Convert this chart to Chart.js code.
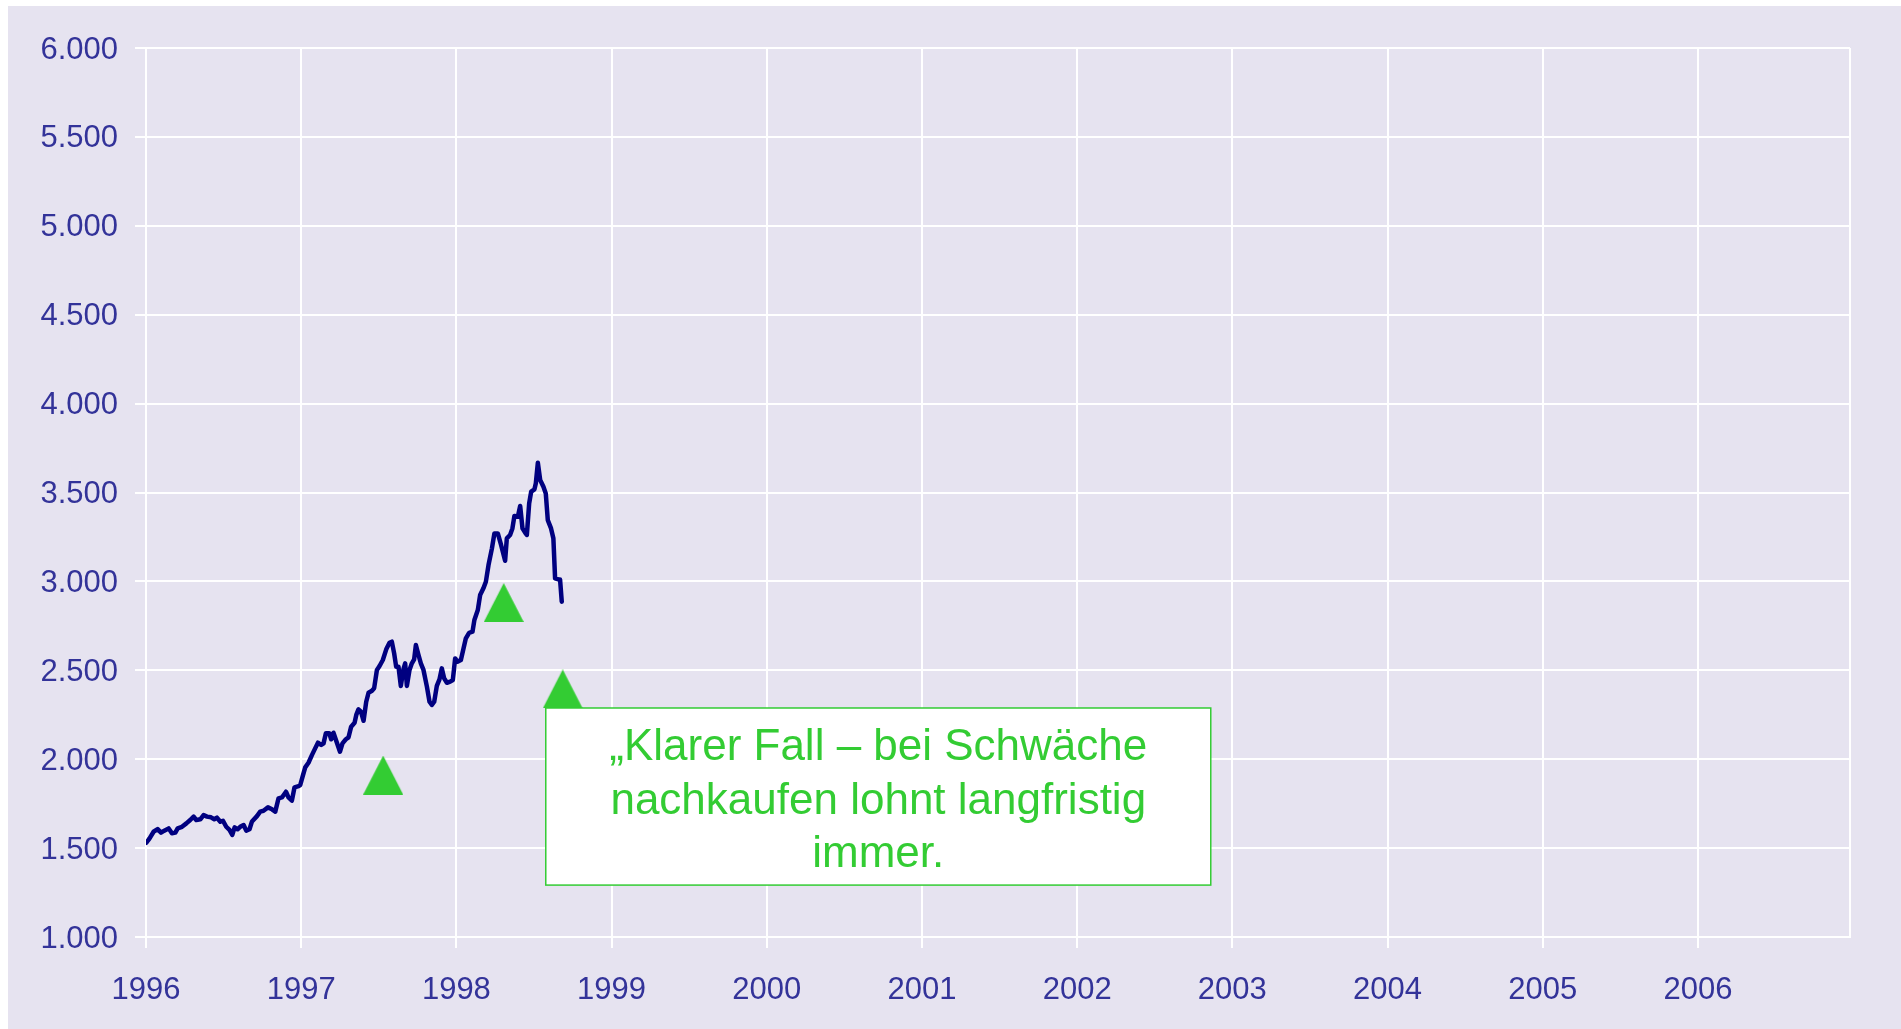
<!DOCTYPE html>
<html>
<head>
<meta charset="utf-8">
<script src="https://cdn.jsdelivr.net/npm/chart.js@4.4.1/dist/chart.umd.min.js"></script>
<style>
  html, body { margin: 0; padding: 0; background: #ffffff; width: 1901px; height: 1029px; overflow: hidden; }
  #bg { position: absolute; left: 8px; top: 6px; right: 0; bottom: 0; background: #E6E3F0; }
  #wrap { position: absolute; left: 0; top: 0; width: 1901px; height: 1029px; }
</style>
</head>
<body>
<div id="bg"></div>
<div id="wrap"><canvas id="c"></canvas></div>
<script>
// ---- data (decimal year, index level) ----
const years = [
  1996.002, 1996.023, 1996.049, 1996.075, 1996.097, 1996.118, 1996.146, 1996.167, 1996.189, 1996.204,
  1996.232, 1996.260, 1996.285, 1996.307, 1996.324, 1996.350, 1996.371, 1996.393, 1996.419, 1996.440,
  1996.457, 1996.479, 1996.496, 1996.517, 1996.538, 1996.556, 1996.571, 1996.590, 1996.607, 1996.629,
  1996.646, 1996.667, 1996.683, 1996.715, 1996.736, 1996.757, 1996.786, 1996.812, 1996.833, 1996.854,
  1996.876, 1996.902, 1996.918, 1996.940, 1996.957, 1996.983, 1996.994, 1997.009, 1997.026, 1997.047,
  1997.069, 1997.090, 1997.108, 1997.129, 1997.144, 1997.159, 1997.181, 1997.193, 1997.208, 1997.224,
  1997.250, 1997.266, 1997.288, 1997.305, 1997.322, 1997.344, 1997.355, 1997.369, 1997.385, 1997.402,
  1997.419, 1997.434, 1997.456, 1997.470, 1997.488, 1997.505, 1997.526, 1997.548, 1997.569, 1997.584,
  1997.599, 1997.612, 1997.627, 1997.642, 1997.659, 1997.670, 1997.681, 1997.698, 1997.713, 1997.728,
  1997.739, 1997.756, 1997.771, 1997.788, 1997.810, 1997.827, 1997.842, 1997.857, 1997.874, 1997.891,
  1997.906, 1997.921, 1997.939, 1997.960, 1997.977, 1997.992, 1998.007, 1998.029, 1998.061, 1998.082,
  1998.104, 1998.116, 1998.138, 1998.153, 1998.174, 1998.190, 1998.207, 1998.229, 1998.245, 1998.267,
  1998.288, 1998.314, 1998.325, 1998.346, 1998.361, 1998.374, 1998.396, 1998.411, 1998.426, 1998.443,
  1998.454, 1998.469, 1998.482, 1998.503, 1998.512, 1998.525, 1998.540, 1998.561, 1998.576, 1998.589,
  1998.610, 1998.625, 1998.636, 1998.657, 1998.668, 1998.679
];
const values = [
  1530, 1555, 1592, 1607, 1587, 1598, 1611, 1583, 1587, 1611,
  1620, 1639, 1658, 1677, 1658, 1662, 1686, 1677, 1673, 1662,
  1671, 1648, 1654, 1620, 1602, 1574, 1617, 1606, 1620, 1630,
  1598, 1606, 1650, 1680, 1705, 1710, 1729, 1718, 1705, 1780,
  1785, 1817, 1785, 1767, 1842, 1849, 1855, 1902, 1954, 1980,
  2023, 2061, 2093, 2080, 2089, 2146, 2146, 2112, 2149, 2108,
  2042, 2089, 2112, 2123, 2183, 2205, 2249, 2280, 2267, 2216,
  2323, 2374, 2385, 2399, 2502, 2524, 2558, 2618, 2655, 2661,
  2595, 2520, 2520, 2412, 2506, 2539, 2412, 2502, 2539, 2562,
  2642, 2586, 2539, 2502, 2408, 2323, 2305, 2323, 2412, 2449,
  2511, 2455, 2430, 2436, 2445, 2567, 2548, 2558, 2680, 2711,
  2717, 2783, 2839, 2923, 2961, 2998, 3092, 3186, 3270, 3270,
  3205, 3116, 3242, 3261, 3298, 3368, 3364, 3424, 3298, 3274,
  3261, 3439, 3505, 3518, 3552, 3667, 3570, 3532, 3495, 3345,
  3298, 3242, 3017, 3011, 3011, 2886
];
// green triangle markers
const markerYears = [1997.528, 1998.305, 1998.685];
const markerValues = [1911, 2881, 2395];
// annotation box (in data units) and its text
const boxYears = [1998.576, 2002.861];
const boxValues = [2288, 1292];
const boxLines = ['\u201EKlarer Fall \u2013 bei Schw\u00E4che', 'nachkaufen lohnt langfristig', 'immer.'];
// axes
const xMin = 1996, xMax = 2006.98, yMin = 1000, yMax = 6000, yStep = 500;
const xTickLabels = ['1996','1997','1998','1999','2000','2001','2002','2003','2004','2005','2006'];

const GREEN = '#33CC33';
const AXIS_TEXT = '#333399';
const FONT = '"Liberation Sans", Arial, Helvetica, sans-serif';

function fmt(v) {
  const s = String(Math.round(v));
  return s.replace(/\B(?=(\d{3})+(?!\d))/g, '.');
}

// isoceles triangle marker image
const tri = document.createElement('canvas');
tri.width = 40; tri.height = 39;
(function(){
  const g = tri.getContext('2d');
  g.fillStyle = GREEN;
  g.beginPath();
  g.moveTo(20, 0); g.lineTo(40, 39); g.lineTo(0, 39); g.closePath();
  g.fill();
})();

const frame = {
  id: 'frame',
  beforeDatasetsDraw(chart) {
    const a = chart.chartArea, ctx = chart.ctx;
    ctx.save();
    ctx.strokeStyle = '#ffffff';
    ctx.lineWidth = 2;
    ctx.beginPath();
    ctx.moveTo(a.right, a.top); ctx.lineTo(a.right, a.bottom);
    ctx.stroke();
    ctx.restore();
  }
};

const note = {
  id: 'note',
  afterDatasetsDraw(chart) {
    const x = chart.scales.x, y = chart.scales.y, ctx = chart.ctx;
    const l = x.getPixelForValue(boxYears[0]), r = x.getPixelForValue(boxYears[1]);
    const t = y.getPixelForValue(boxValues[0]), b = y.getPixelForValue(boxValues[1]);
    ctx.save();
    ctx.fillStyle = '#ffffff';
    ctx.fillRect(l, t, r - l, b - t);
    ctx.strokeStyle = GREEN;
    ctx.lineWidth = 1.5;
    ctx.strokeRect(l, t, r - l, b - t);
    ctx.fillStyle = GREEN;
    ctx.font = '44px ' + FONT;
    ctx.textAlign = 'center';
    ctx.textBaseline = 'middle';
    const cx = (l + r) / 2, cy = (t + b) / 2 + 5, lh = 53.5;
    boxLines.forEach((s, i) => {
      ctx.fillText(s, cx, cy + (i - (boxLines.length - 1) / 2) * lh);
    });
    ctx.restore();
  }
};

new Chart(document.getElementById('c'), {
  type: 'scatter',
  data: {
    datasets: [
      {
        label: 'Index',
        data: years.map((x, i) => ({ x, y: values[i] })),
        showLine: true,
        borderColor: '#000080',
        backgroundColor: '#000080',
        borderWidth: 4.5,
        borderJoinStyle: 'round',
        borderCapStyle: 'round',
        pointRadius: 0,
        tension: 0,
        order: 2
      },
      {
        label: 'Marker',
        data: markerYears.map((x, i) => ({ x, y: markerValues[i] })),
        pointStyle: tri,
        pointRadius: 20,
        order: 1
      }
    ]
  },
  options: {
    responsive: true,
    maintainAspectRatio: false,
    animation: false,
    events: [],
    layout: { padding: { left: 0, top: 48, right: 51, bottom: 0 } },
    plugins: { legend: { display: false }, tooltip: { enabled: false } },
    scales: {
      x: {
        type: 'linear',
        min: xMin, max: xMax,
        afterFit(s) { s.height = 92; },
        grid: { color: '#ffffff', lineWidth: 2, tickLength: 11, drawTicks: true },
        border: { display: true, color: '#ffffff', width: 2 },
        ticks: {
          stepSize: 1,
          includeBounds: false,
          autoSkip: false,
          maxRotation: 0,
          padding: 24,
          color: AXIS_TEXT,
          font: { family: FONT, size: 31 },
          callback(v) { const i = Math.round(v) - xMin; return xTickLabels[i] !== undefined && Math.abs(v - Math.round(v)) < 1e-6 ? xTickLabels[i] : ''; }
        }
      },
      y: {
        type: 'linear',
        min: yMin, max: yMax,
        afterFit(s) { s.width = 146; },
        grid: { color: '#ffffff', lineWidth: 2, tickLength: 11, drawTicks: true },
        border: { display: true, color: '#ffffff', width: 2 },
        ticks: {
          stepSize: yStep,
          padding: 17,
          labelOffset: 2,
          color: AXIS_TEXT,
          font: { family: FONT, size: 31 },
          callback(v) { return fmt(v); }
        }
      }
    }
  },
  plugins: [frame, note]
});
</script>
</body>
</html>
